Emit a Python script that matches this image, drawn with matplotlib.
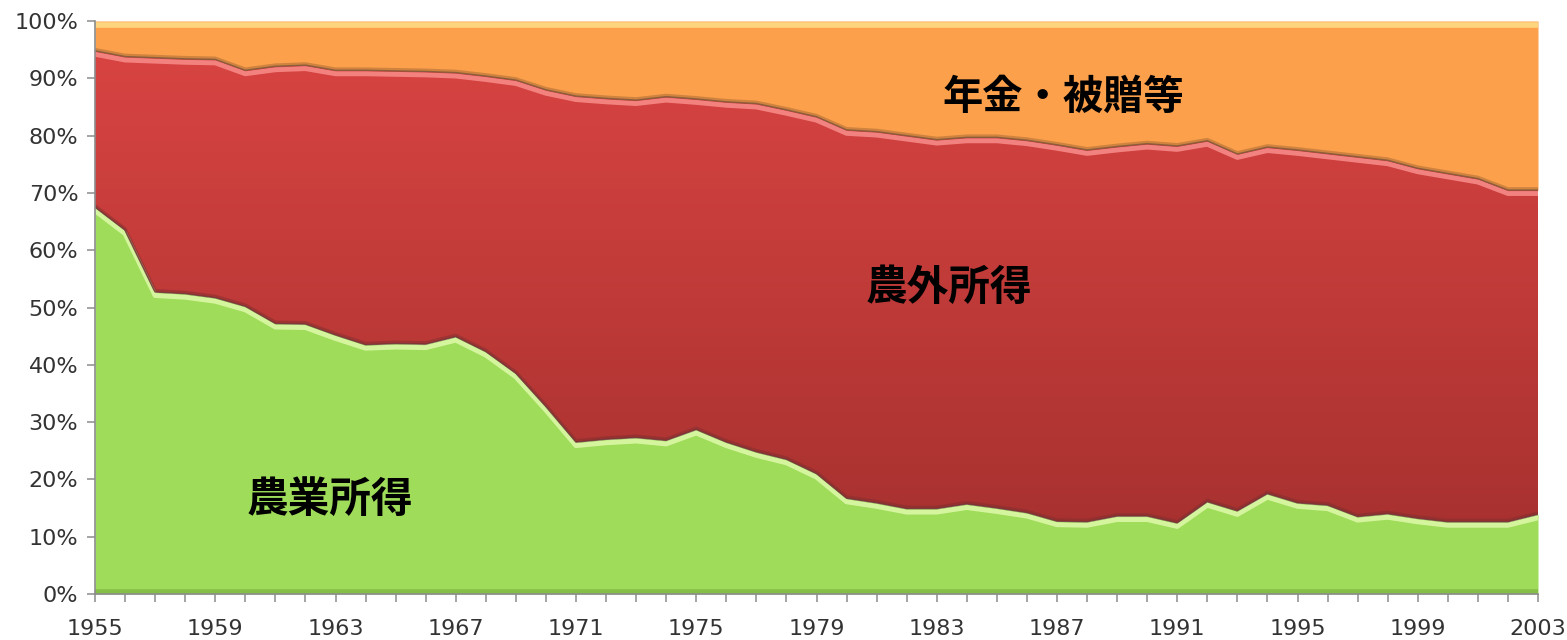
import numpy as np
import matplotlib
matplotlib.use("Agg")
import matplotlib.pyplot as plt
from matplotlib import transforms
from matplotlib.colors import LinearSegmentedColormap
from matplotlib.ticker import FixedLocator, FuncFormatter

# ---------------- data (shares of household income, %) ----------------
years = list(range(1955, 2004))

farm_income = [67.5, 63.5, 52.7, 52.4, 51.7, 50.2, 47.2, 47.1, 45.2, 43.5,
               43.7, 43.6, 44.9, 42.3, 38.5, 32.7, 26.5, 27.0, 27.3, 26.8,
               28.7, 26.5, 24.8, 23.5, 21.0, 16.7, 15.9, 14.9, 14.9, 15.7,
               15.0, 14.2, 12.7, 12.6, 13.6, 13.6, 12.4, 16.1, 14.5, 17.5,
               15.9, 15.5, 13.5, 14.0, 13.2, 12.6, 12.6, 12.6, 13.9]

nonfarm_income = [27.3, 30.3, 40.9, 41.0, 41.6, 41.2, 44.9, 45.2, 46.2, 47.9,
                  47.6, 47.6, 46.1, 48.1, 51.2, 55.3, 60.4, 59.5, 58.9, 60.0,
                  57.7, 59.4, 60.8, 61.0, 62.3, 64.3, 64.8, 65.1, 64.4, 64.0,
                  64.7, 65.0, 65.7, 64.9, 64.5, 65.0, 65.8, 63.0, 62.3, 60.5,
                  61.6, 61.4, 62.8, 61.7, 61.1, 60.8, 59.9, 57.9, 56.6]

pension_gifts = [5.2, 6.2, 6.4, 6.6, 6.7, 8.6, 7.9, 7.7, 8.6, 8.6,
                 8.7, 8.8, 9.0, 9.6, 10.3, 12.0, 13.1, 13.5, 13.8, 13.2,
                 13.6, 14.1, 14.4, 15.5, 16.7, 19.0, 19.3, 20.0, 20.7, 20.3,
                 20.3, 20.8, 21.6, 22.5, 21.9, 21.4, 21.8, 20.9, 23.2, 22.0,
                 22.5, 23.1, 23.7, 24.3, 25.7, 26.6, 27.5, 29.5, 29.5]

series_labels = ["農業所得", "農外所得", "年金・被贈等"]
y_ticks = [0, 10, 20, 30, 40, 50, 60, 70, 80, 90, 100]
x_label_years = list(range(1955, 2004, 4))

# ---------------- figure ----------------
W, H = 1567, 640
fig = plt.figure(figsize=(W / 100, H / 100), dpi=100)
ax = fig.add_axes([95 / W, 46 / H, 1443 / W, 573 / H])

x = np.array(years, dtype=float)
g = np.array(farm_income)
r = np.array(nonfarm_income)
o = np.array(pension_gifts)
tot = g + r + o
g_top = g / tot * 100
r_top = (g + r) / tot * 100

GREEN = "#9EDC5A"
ORANGE = "#FCA04C"

# orange (top layer) and green (bottom layer)
ax.fill_between(x, r_top, 100, color=ORANGE, lw=0, zorder=1)
ax.fill_between(x, 0, g_top, color=GREEN, lw=0, zorder=1)

# red with vertical gradient
red_poly = ax.fill_between(x, g_top, r_top, facecolor="none", lw=0, zorder=1)
cmap = LinearSegmentedColormap.from_list("redgrad", ["#A12F2D", "#DB4543"])
grad = np.linspace(0, 1, 256).reshape(-1, 1)
im = ax.imshow(grad, extent=[x[0], x[-1], 0, 100], origin="lower",
               aspect="auto", cmap=cmap, zorder=1, interpolation="bilinear")
im.set_clip_path(red_poly.get_paths()[0], transform=ax.transData)

# bevel highlights / shadows
off_down = transforms.offset_copy(ax.transData, fig=fig, x=0, y=-3.5, units="dots")
off_up = transforms.offset_copy(ax.transData, fig=fig, x=0, y=1.5, units="dots")
ax.plot(x, g_top, color="#D9F6A2", lw=3.5, transform=off_down, zorder=3,
        solid_joinstyle="round", alpha=0.95)
ax.plot(x, g_top, color="#7A2E2E", lw=2.2, transform=off_up, zorder=3,
        solid_joinstyle="round", alpha=0.45)
ax.plot(x, g_top, color="#6B3434", lw=1.0, zorder=4, solid_joinstyle="round", alpha=0.8)

ax.plot(x, r_top, color="#F58683", lw=3.5, transform=off_down, zorder=3,
        solid_joinstyle="round", alpha=0.95)
ax.plot(x, r_top, color="#9A6030", lw=2.0, transform=off_up, zorder=3,
        solid_joinstyle="round", alpha=0.45)
ax.plot(x, r_top, color="#7E5A3A", lw=1.0, zorder=4, solid_joinstyle="round", alpha=0.85)

top_line = np.full_like(x, 100.0)
ax.plot(x, top_line, color="#FFDC85", lw=4, transform=off_down, zorder=3, alpha=0.9)
bottom_line = np.zeros_like(x)
ax.plot(x, bottom_line, color="#86BF48", lw=4, zorder=3,
        transform=transforms.offset_copy(ax.transData, fig=fig, x=0, y=2, units="dots"))

ax.set_xlim(x[0], x[-1])
ax.set_ylim(0, 100)

# ---------------- axes styling ----------------
for s in ["top", "right"]:
    ax.spines[s].set_visible(False)
for s in ["left", "bottom"]:
    ax.spines[s].set_color("#8C8C8C")
    ax.spines[s].set_linewidth(1.2)
    ax.spines[s].set_zorder(5)

ax.yaxis.set_major_locator(FixedLocator(y_ticks))
ax.yaxis.set_major_formatter(FuncFormatter(lambda v, p: f"{int(v)}%"))
ax.xaxis.set_major_locator(FixedLocator(x_label_years))
ax.xaxis.set_minor_locator(FixedLocator(years))
ax.xaxis.set_major_formatter(FuncFormatter(lambda v, p: f"{int(v)}"))

ax.tick_params(axis="y", which="major", direction="out", length=6, width=1.1,
               color="#8C8C8C", labelsize=16, labelcolor="#333333", pad=6)
ax.tick_params(axis="x", which="both", direction="out", length=6, width=1.1,
               color="#8C8C8C")
ax.tick_params(axis="x", which="major", labelsize=16, labelcolor="#333333", pad=12)

# ---------------- series labels ----------------
jp = ["Noto Sans CJK JP", "DejaVu Sans"]
ax.text(1962.8, 16.4, series_labels[0], ha="center", va="center", fontsize=30,
        fontweight="bold", family=jp, color="black", zorder=6)
ax.text(1983.4, 53.4, series_labels[1], ha="center", va="center", fontsize=30,
        fontweight="bold", family=jp, color="black", zorder=6)
ax.text(1987.2, 86.6, series_labels[2], ha="center", va="center", fontsize=29,
        fontweight="bold", family=jp, color="black", zorder=6)

fig.savefig("out.png", dpi=100, facecolor="white")
